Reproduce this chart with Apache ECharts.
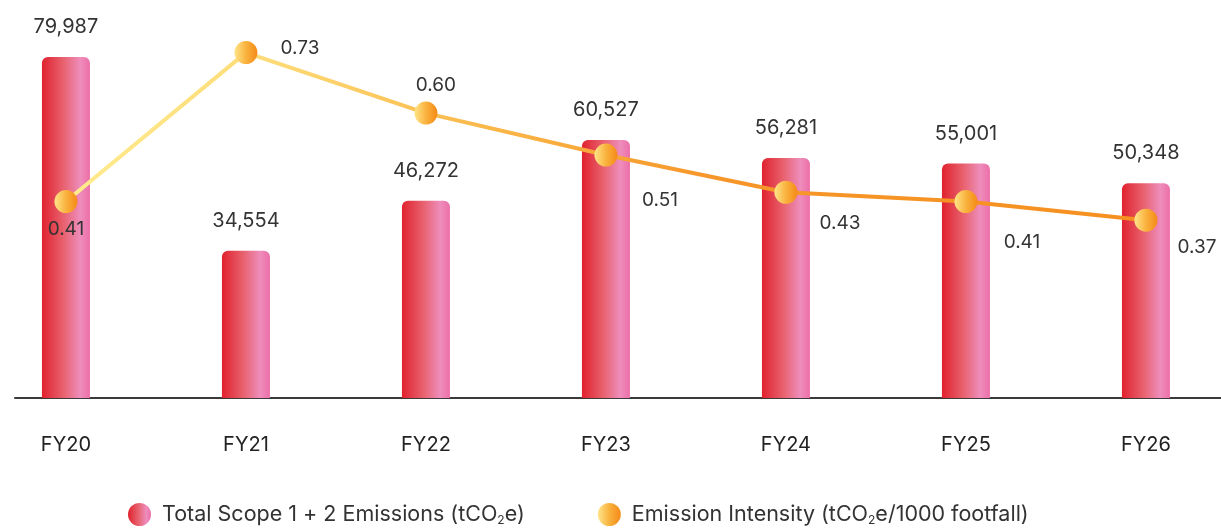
<!DOCTYPE html>
<html>
<head>
<meta charset="utf-8">
<script src="https://cdn.jsdelivr.net/npm/echarts@6/dist/echarts.min.js"></script>
<style>
  html, body { margin: 0; padding: 0; background: #fff; }
  #chart { width: 1221px; height: 528px; }
</style>
</head>
<body>
<div id="chart"></div>
<script>
// Fiscal years on the x axis
const categories = ['FY20', 'FY21', 'FY22', 'FY23', 'FY24', 'FY25', 'FY26'];
// Total Scope 1 + 2 emissions, tCO2e
const emissions = [79987, 34554, 46272, 60527, 56281, 55001, 50348];
// Emission intensity, tCO2e per 1000 footfall
const intensity = [0.41, 0.73, 0.60, 0.51, 0.43, 0.41, 0.37];

// Where each intensity label sits relative to its point
const intensityLabelOffsets = [
  [0, 28], [54, -4], [10, -28], [54, 45], [54, 31], [56, 41], [51, 27]
];

const FONT = 'Inter, "Open Sans", sans-serif';
const xs = categories.map((_, i) => i);

const barGradient = new echarts.graphic.LinearGradient(0, 0, 1, 0, [
  { offset: 0, color: '#E0222E' },
  { offset: 0.45, color: '#E8626F' },
  { offset: 0.8, color: '#EE8DBC' },
  { offset: 1, color: '#EC6EA8' }
]);
const lineGradient = new echarts.graphic.LinearGradient(0, 0, 1, 0, [
  { offset: 0, color: '#FFEB8E' },
  { offset: 0.18, color: '#FDDC78' },
  { offset: 0.42, color: '#F9B243' },
  { offset: 0.6, color: '#F6962A' },
  { offset: 1, color: '#F6901F' }
]);
const dotGradient = new echarts.graphic.LinearGradient(0, 0, 1, 0, [
  { offset: 0, color: '#FFE58A' },
  { offset: 0.5, color: '#F9B23E' },
  { offset: 1, color: '#F58A18' }
]);

const chart = echarts.init(document.getElementById('chart'), null, { renderer: 'canvas' });

chart.setOption({
  animation: false,
  backgroundColor: '#ffffff',
  grid: { left: 15, right: 0, top: 0, height: 398, containLabel: false },
  legend: {
    left: 128,
    top: 503,
    padding: 0,
    itemGap: 73,
    itemWidth: 23,
    itemHeight: 23,
    icon: 'circle',
    textStyle: {
      fontFamily: FONT,
      fontSize: 21.5,
      color: '#333',
      padding: [0, 0, 0, 6],
      rich: {
        sub: { fontFamily: FONT, fontSize: 12, color: '#333', padding: [11, 0, 0, 0] }
      }
    },
    formatter: function (name) {
      if (name === 'total') return 'Total Scope 1 + 2 Emissions (tCO{sub|2}e)';
      return 'Emission Intensity (tCO{sub|2}e/1000 footfall)';
    },
    data: ['total', 'intensity']
  },
  xAxis: {
    type: 'value',
    min: -0.283,
    max: 6.417,
    axisLine: { show: true, onZero: false, lineStyle: { color: '#3a3a3a', width: 2 } },
    axisTick: { show: false },
    splitLine: { show: false },
    axisLabel: {
      customValues: xs,
      formatter: v => categories[Math.round(v)] || '',
      margin: 37,
      fontFamily: FONT,
      fontSize: 20,
      color: '#222'
    }
  },
  yAxis: [
    { type: 'value', min: 0, max: 93360, show: false, splitLine: { show: false } },
    { type: 'value', min: -0.012, max: 0.843, show: false, splitLine: { show: false } }
  ],
  series: [
    {
      name: 'total',
      type: 'bar',
      yAxisIndex: 0,
      barWidth: 48,
      data: emissions.map((v, i) => [i, v]),
      itemStyle: { color: barGradient, borderRadius: [6, 6, 0, 0] },
      label: {
        show: true,
        position: 'top',
        distance: 20,
        formatter: p => p.value[1].toLocaleString('en-US'),
        fontFamily: FONT,
        fontSize: 20,
        color: '#333'
      },
      z: 2
    },
    {
      name: 'intensity',
      type: 'line',
      yAxisIndex: 1,
      data: intensity.map((v, i) => ({
        value: [i, v],
        label: { offset: intensityLabelOffsets[i] }
      })),
      symbol: 'circle',
      symbolSize: 23,
      lineStyle: { width: 4, color: lineGradient },
      itemStyle: { color: dotGradient, borderWidth: 0 },
      label: {
        show: true,
        position: 'inside',
        formatter: p => p.value[1].toFixed(2),
        fontFamily: FONT,
        fontSize: 19,
        color: '#333'
      },
      z: 5
    }
  ]
});
</script>
</body>
</html>
